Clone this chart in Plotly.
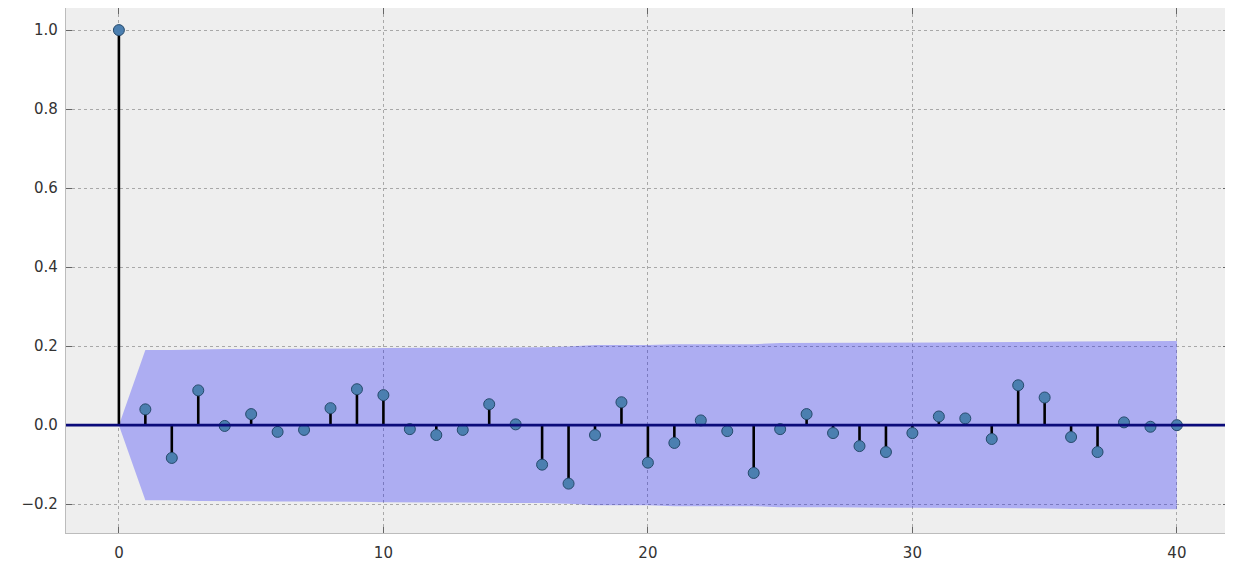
import plotly.graph_objects as go

# autocorrelation at each lag
lags = list(range(41))
acf_values = [1.0, 0.04, -0.083, 0.088, -0.002, 0.028, -0.017, -0.012, 0.043, 0.091,
              0.076, -0.01, -0.025, -0.012, 0.053, 0.002, -0.1, -0.148, -0.025, 0.058,
              -0.095, -0.045, 0.012, -0.015, -0.121, -0.01, 0.028, -0.02, -0.053, -0.068,
              -0.02, 0.022, 0.017, -0.035, 0.101, 0.07, -0.03, -0.068, 0.007, -0.004, 0.0]
# half width of the confidence band per lag
conf_half = [0.0, 0.190, 0.190, 0.192, 0.193, 0.193, 0.193, 0.193, 0.193, 0.194,
             0.195, 0.196, 0.196, 0.196, 0.196, 0.197, 0.197, 0.199, 0.203, 0.203,
             0.203, 0.205, 0.205, 0.205, 0.205, 0.208, 0.208, 0.208, 0.208, 0.209,
             0.209, 0.209, 0.210, 0.210, 0.210, 0.211, 0.212, 0.212, 0.213, 0.213, 0.213]

y_ticks = [-0.2, 0.0, 0.2, 0.4, 0.6, 0.8, 1.0]
y_tick_text = ['\u22120.2', '0.0', '0.2', '0.4', '0.6', '0.8', '1.0']
x_ticks = [0, 10, 20, 30, 40]

fig = go.Figure()

# confidence band
fig.add_trace(go.Scatter(
    x=lags + lags[::-1],
    y=conf_half + [-c for c in conf_half[::-1]],
    fill='toself', fillcolor='rgba(0,0,255,0.27)',
    line=dict(width=0), mode='lines', hoverinfo='skip', showlegend=False))

# stems
stem_x, stem_y = [], []
for lag, val in zip(lags, acf_values):
    stem_x += [lag, lag, None]
    stem_y += [0, val, None]
fig.add_trace(go.Scatter(x=stem_x, y=stem_y, mode='lines',
                         line=dict(color='black', width=2.6), showlegend=False))

fig.add_hline(y=0, line=dict(color='#0b0b7a', width=2.8), layer='above')

# markers
fig.add_trace(go.Scatter(x=lags, y=acf_values, mode='markers',
                         marker=dict(size=11, color='#4b7fb0',
                                     line=dict(color='#264a6c', width=1)),
                         showlegend=False))

axis_common = dict(
    showline=True, linecolor='#bcbcbc', linewidth=1.2, mirror='ticks',
    showgrid=True, gridcolor='#a8a8a8', griddash='3px,3px', gridwidth=1,
    zeroline=False, ticks='inside', ticklen=6, tickcolor='#666666',
    tickfont=dict(family='DejaVu Sans', size=15, color='#333333'),
)

# page has an 8px body margin, so the figure is shrunk by that much
fig.update_layout(
    width=1225, height=563,
    margin=dict(l=58, r=4, t=0, b=38),
    paper_bgcolor='white', plot_bgcolor='#eeeeee',
    xaxis=dict(range=[-2, 41.97], tickvals=x_ticks, ticklabelstandoff=6, **axis_common),
    yaxis=dict(range=[-0.273, 1.056], tickvals=y_ticks, ticktext=y_tick_text,
               ticklabelstandoff=4, **axis_common),
)

fig.write_html("out.html")
